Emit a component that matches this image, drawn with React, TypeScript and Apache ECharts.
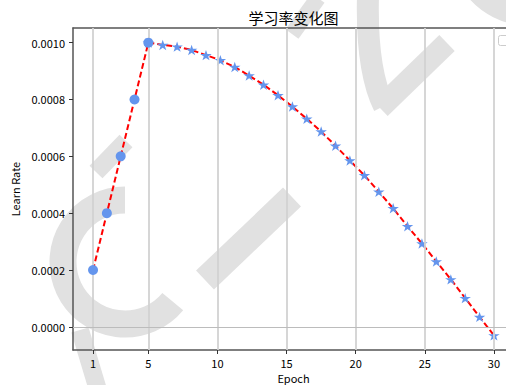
import React, { useEffect, useRef } from "react";
import * as echarts from "echarts";

const warmEpochs = [1, 2, 3, 4, 5];
const warmLR = [0.0002, 0.0004, 0.0006, 0.0008, 0.001];
const decayEpochs = [5, 6.04, 7.08, 8.13, 9.17, 10.21, 11.25, 12.29, 13.33, 14.38, 15.42, 16.46, 17.5, 18.54, 19.58, 20.63, 21.67, 22.71, 23.75, 24.79, 25.83, 26.88, 27.92, 28.96, 30];
const decayLR = [0.001, 0.000992, 0.000986, 0.000974, 0.000956, 0.000938, 0.000914, 0.000884, 0.000852, 0.000815, 0.000775, 0.000732, 0.000687, 0.000637, 0.000585, 0.000533, 0.000475, 0.000417, 0.000354, 0.000293, 0.00023, 0.000167, 0.000101, 0.000035, -0.00003];
const xTicks = [1, 5, 10, 15, 20, 25, 30];
const yTicks = [0, 0.0002, 0.0004, 0.0006, 0.0008, 0.001];

const STAR = "path://M0,-1L0.2245,-0.309L0.951,-0.309L0.363,0.118L0.588,0.809L0,0.382L-0.588,0.809L-0.363,0.118L-0.951,-0.309L-0.2245,-0.309Z";
const FONT = "'Noto Sans CJK SC', 'DejaVu Sans', sans-serif";
const WM = "#e1e1e1";

export default function App() {
  const ref = useRef<HTMLDivElement>(null);
  useEffect(() => {
    document.body.style.overflow = "hidden";
    const chart = echarts.init(ref.current!, undefined, { renderer: "svg" });
    const allData: number[][] = [];
    warmEpochs.forEach((e, i) => allData.push([e, warmLR[i]]));
    decayEpochs.slice(1).forEach((e, i) => allData.push([e, decayLR[i + 1]]));
    chart.setOption({
      animation: false,
      backgroundColor: "#ffffff",
      graphic: [
        {
          type: "group",
          z: -10,
          silent: true,
          children: [
            { type: "arc", shape: { cx: 125, cy: 262, r: 62, startAngle: Math.PI * 0.22, endAngle: Math.PI * 1.5 }, style: { stroke: WM, lineWidth: 27, fill: "none" } },
            { type: "line", shape: { x1: 96, y1: 172, x2: 126, y2: 141 }, style: { stroke: WM, lineWidth: 18 } },
            { type: "line", shape: { x1: 80, y1: 330, x2: 98, y2: 390 }, style: { stroke: WM, lineWidth: 18 } },
            { type: "line", shape: { x1: 205, y1: 280, x2: 292, y2: 197 }, style: { stroke: WM, lineWidth: 26 } },
            { type: "bezierCurve", shape: { x1: 368, y1: -5, cpx1: 366, cpy1: 70, x2: 384, y2: 106 }, style: { stroke: WM, lineWidth: 22, fill: "none" } },
            { type: "line", shape: { x1: 380, y1: 108, x2: 447, y2: 43 }, style: { stroke: WM, lineWidth: 22 } },
            { type: "line", shape: { x1: 318, y1: -2, x2: 292, y2: 34 }, style: { stroke: WM, lineWidth: 16 } },
            { type: "arc", shape: { cx: 530, cy: -55, r: 70, startAngle: Math.PI * 0.45, endAngle: Math.PI * 0.85 }, style: { stroke: WM, lineWidth: 22, fill: "none" } },
          ],
        },
        {
          type: "text",
          x: 293.5,
          y: 17,
          style: { text: "学习率变化图", font: `15px ${FONT}`, fill: "#000", textAlign: "center", textVerticalAlign: "middle" },
        },
        {
          type: "rect",
          z: 100,
          shape: { x: 498.5, y: 35.5, width: 30, height: 10, r: 2 },
          style: { fill: "#fff", stroke: "#cccccc", lineWidth: 1 },
        },
      ],
      grid: { left: 73, top: 28, right: 6, bottom: 35, containLabel: false, outerBoundsMode: "none" },
      xAxis: [
        {
          type: "value",
          min: -0.45,
          max: 31.45,
          name: "Epoch",
          nameLocation: "middle",
          nameGap: 27,
          nameTextStyle: { fontFamily: FONT, fontSize: 11, color: "#000", verticalAlign: "middle" },
          axisLine: { show: true, onZero: false, lineStyle: { color: "#555", width: 1.5 } },
          axisTick: { show: true, length: 4, customValues: xTicks, lineStyle: { color: "#333" } },
          axisLabel: { customValues: xTicks, margin: 7, fontFamily: FONT, fontSize: 11, color: "#000", formatter: (v: number) => String(v) },
          splitLine: { show: false },
        },
        {
          type: "value",
          position: "top",
          min: -0.45,
          max: 31.45,
          axisLine: { show: true, onZero: false, lineStyle: { color: "#555", width: 1.5 } },
          axisTick: { show: false },
          axisLabel: { show: false },
          splitLine: { show: false },
        },
      ],
      yAxis: {
        type: "value",
        min: -0.0000815,
        max: 0.0010515,
        name: "Learn Rate",
        nameLocation: "middle",
        nameGap: 56,
        nameTextStyle: { fontFamily: FONT, fontSize: 11, color: "#000", verticalAlign: "middle" },
        axisLine: { show: true, onZero: false, lineStyle: { color: "#555", width: 1.5 } },
        axisTick: { show: true, length: 4, customValues: yTicks, lineStyle: { color: "#333" } },
        axisLabel: { customValues: yTicks, margin: 8, fontFamily: FONT, fontSize: 11, color: "#000", formatter: (v: number) => v.toFixed(4) },
        splitLine: { show: false },
      },
      series: [
        {
          type: "scatter",
          data: [[-100, 0]],
          symbolSize: 0,
          z: 1,
          silent: true,
          markLine: {
            silent: true,
            symbol: ["none", "none"],
            label: { show: false },
            animation: false,
            data: [
              ...xTicks.map((v) => ({ xAxis: v, lineStyle: { color: "#d2d2d2", width: 1.8, type: "solid" } })),
              ...yTicks.map((v) => ({ yAxis: v, lineStyle: { color: "#bcbcbc", width: 1.2, type: "solid" } })),
            ],
          },
        },
        {
          type: "line",
          data: allData,
          showSymbol: false,
          symbol: "none",
          z: 3,
          lineStyle: { color: "#ff0000", width: 2, type: [6, 3] },
        },
        {
          type: "scatter",
          data: decayEpochs.map((e, i) => [e, decayLR[i]]),
          symbol: STAR,
          symbolKeepAspect: true,
          symbolSize: [11.5, 11],
          z: 4,
          itemStyle: { color: "#6495ed", opacity: 1 },
        },
        {
          type: "scatter",
          data: warmEpochs.map((e, i) => [e, warmLR[i]]),
          symbol: "circle",
          symbolSize: 10,
          z: 5,
          itemStyle: { color: "#6495ed", opacity: 1 },
        },
      ],
    });
    return () => chart.dispose();
  }, []);
  return <div ref={ref} style={{ position: "fixed", left: 0, top: 0, width: 520, height: 385 }} />;
}
